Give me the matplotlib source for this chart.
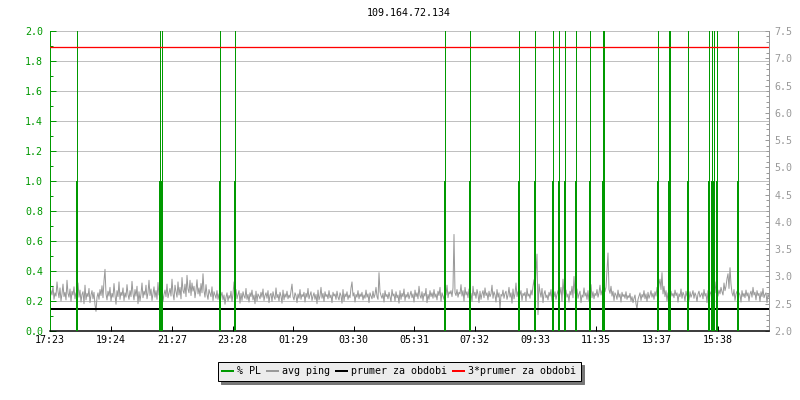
import matplotlib
matplotlib.use("Agg")
import matplotlib.pyplot as plt
from matplotlib.lines import Line2D
from matplotlib.ticker import MultipleLocator, FormatStrFormatter

plt.rcParams['font.family'] = ['DejaVu Sans Mono']

# ---------------- data ----------------
title = "109.164.72.134"
start_time = "17:23"
tick_labels = ["17:23", "19:24", "21:27", "23:28", "01:29", "03:30",
               "05:31", "07:32", "09:33", "11:35", "13:37", "15:38"]

ping_step_min = 2  # minutes between ping samples
ping = [
    2.60, 2.74, 2.66, 2.82, 2.58, 2.70, 2.64, 2.90, 2.72, 2.61, 2.79, 2.55, 2.68, 2.86, 2.63, 2.71, 2.57, 2.93, 2.69, 2.62, 2.77, 2.54, 2.73, 2.66,
    2.81, 2.59, 2.70, 2.64, 2.88, 2.62, 2.75, 2.53, 2.67, 2.72, 2.50, 2.84, 2.57, 2.69, 2.63, 2.78, 2.52, 2.66, 2.74, 2.59, 2.71, 2.48, 2.36, 2.62,
    2.70, 2.58, 2.76, 2.65, 2.83, 2.61, 2.92, 3.13, 2.68, 2.57, 2.73, 2.64, 2.80, 2.55, 2.69, 2.62, 2.87, 2.66, 2.49, 2.74, 2.63, 2.90, 2.58, 2.71,
    2.65, 2.79, 2.56, 2.70, 2.62, 2.85, 2.67, 2.58, 2.74, 2.63, 2.91, 2.69, 2.57, 2.76, 2.64, 2.82, 2.50, 2.72, 2.55, 2.68, 2.88, 2.61, 2.73, 2.66,
    2.84, 2.59, 2.70, 2.93, 2.65, 2.77, 2.56, 2.68, 2.81, 2.62, 2.74, 2.58, 2.89, 2.66, 2.71, 2.60, 2.79, 2.54, 2.67, 2.75, 2.63, 2.86, 2.61, 2.70,
    2.78, 2.64, 2.95, 2.68, 2.57, 2.84, 2.72, 2.62, 2.90, 2.66, 2.80, 2.59, 2.98, 2.74, 2.69, 2.86, 2.63, 3.02, 2.77, 2.70, 2.93, 2.65, 2.88, 2.73,
    2.82, 2.61, 2.75, 2.94, 2.68, 2.79, 2.64, 2.87, 2.70, 3.05, 2.74, 2.62, 2.85, 2.67, 2.58, 2.76, 2.69, 2.63, 2.81, 2.56, 2.72, 2.66, 2.60, 2.74,
    2.58, 2.68, 2.52, 2.64, 2.71, 2.57, 2.66, 2.49, 2.62, 2.70, 2.55, 2.65, 2.60, 2.73, 2.54, 2.68, 2.90, 2.63, 2.76, 2.59, 2.67, 2.74, 2.51, 2.69,
    2.56, 2.72, 2.64, 2.60, 2.78, 2.58, 2.67, 2.53, 2.70, 2.63, 2.75, 2.57, 2.66, 2.50, 2.73, 2.55, 2.68, 2.64, 2.59, 2.71, 2.62, 2.77, 2.56, 2.65,
    2.70, 2.60, 2.74, 2.52, 2.66, 2.69, 2.54, 2.72, 2.63, 2.58, 2.79, 2.61, 2.67, 2.55, 2.71, 2.64, 2.51, 2.75, 2.57, 2.68, 2.62, 2.73, 2.59, 2.66,
    2.61, 2.74, 2.86, 2.63, 2.57, 2.70, 2.65, 2.52, 2.68, 2.60, 2.76, 2.58, 2.67, 2.63, 2.71, 2.53, 2.69, 2.62, 2.78, 2.59, 2.66, 2.72, 2.56, 2.64,
    2.70, 2.58, 2.67, 2.50, 2.75, 2.57, 2.64, 2.80, 2.60, 2.69, 2.54, 2.72, 2.63, 2.67, 2.59, 2.74, 2.61, 2.66, 2.52, 2.71, 2.64, 2.68, 2.58, 2.73,
    2.62, 2.57, 2.70, 2.65, 2.51, 2.76, 2.55, 2.68, 2.63, 2.72, 2.58, 2.66, 2.61, 2.79, 2.90, 2.64, 2.70, 2.53, 2.67, 2.62, 2.74, 2.59, 2.68, 2.63,
    2.71, 2.57, 2.66, 2.60, 2.75, 2.62, 2.68, 2.52, 2.70, 2.64, 2.59, 2.73, 2.61, 2.67, 2.80, 2.63, 2.58, 3.07, 2.72, 2.65, 2.60, 2.69, 2.53, 2.74,
    2.63, 2.67, 2.59, 2.71, 2.62, 2.54, 2.76, 2.64, 2.68, 2.55, 2.72, 2.61, 2.66, 2.51, 2.74, 2.58, 2.69, 2.63, 2.77, 2.56, 2.67, 2.62, 2.71, 2.59,
    2.66, 2.73, 2.61, 2.68, 2.53, 2.75, 2.63, 2.70, 2.59, 2.82, 2.65, 2.60, 2.72, 2.56, 2.69, 2.64, 2.78, 2.52, 2.67, 2.58, 2.74, 2.63, 2.70, 2.60,
    2.76, 2.62, 2.68, 2.57, 2.73, 2.65, 2.80, 2.54, 2.70, 2.64, 2.58, 2.75, 2.66, 2.84, 2.61, 2.72, 2.68, 2.74, 2.63, 2.79, 3.77, 2.70, 2.65, 2.76,
    2.62, 2.71, 2.68, 2.85, 2.64, 2.74, 2.55, 2.80, 2.66, 2.72, 2.61, 2.77, 2.63, 2.69, 2.54, 2.82, 2.65, 2.71, 2.60, 2.76, 2.67, 2.52, 2.73, 2.58,
    2.68, 2.74, 2.61, 2.79, 2.65, 2.70, 2.57, 2.73, 2.63, 2.68, 2.84, 2.60, 2.72, 2.66, 2.53, 2.76, 2.62, 2.70, 2.40, 2.67, 2.64, 2.75, 2.60, 2.69,
    2.73, 2.58, 2.66, 2.80, 2.62, 2.70, 2.51, 2.77, 2.59, 2.68, 2.88, 2.63, 2.72, 2.60, 2.67, 2.74, 2.56, 2.69, 2.65, 2.71, 2.55, 2.78, 2.64, 2.68,
    2.60, 2.75, 2.66, 2.82, 2.94, 2.70, 3.10, 3.41, 2.30, 2.86, 2.72, 2.62, 2.78, 2.52, 2.68, 2.74, 2.61, 2.66, 2.57, 2.71, 2.64, 2.76, 2.55, 2.69,
    2.63, 2.72, 2.58, 2.67, 2.74, 2.61, 2.69, 2.80, 2.54, 2.95, 2.70, 2.59, 2.75, 2.62, 2.68, 2.53, 2.73, 2.66, 2.82, 2.61, 3.00, 2.70, 2.64, 2.77,
    2.60, 2.68, 2.73, 2.52, 2.66, 2.62, 2.79, 2.64, 2.70, 2.58, 2.74, 2.55, 2.67, 2.85, 2.61, 2.72, 2.59, 2.69, 2.65, 2.76, 2.62, 2.70, 2.84, 2.66,
    2.74, 2.68, 2.90, 2.72, 2.80, 3.10, 3.43, 2.76, 2.69, 2.82, 2.64, 2.73, 2.56, 2.70, 2.66, 2.58, 2.75, 2.62, 2.68, 2.53, 2.71, 2.63, 2.67, 2.60,
    2.72, 2.58, 2.65, 2.61, 2.69, 2.55, 2.63, 2.52, 2.60, 2.66, 2.50, 2.40, 2.58, 2.64, 2.70, 2.56, 2.67, 2.62, 2.74, 2.59, 2.68, 2.54, 2.71, 2.60,
    2.66, 2.74, 2.62, 2.69, 2.58, 2.72, 2.64, 2.80, 2.70, 2.86, 2.95, 2.76, 3.07, 2.68, 2.82, 2.63, 2.74, 2.55, 2.70, 2.66, 2.58, 2.73, 2.64, 2.69,
    2.61, 2.75, 2.65, 2.70, 2.53, 2.68, 2.63, 2.77, 2.60, 2.71, 2.66, 2.55, 2.73, 2.64, 2.69, 2.56, 2.72, 2.62, 2.67, 2.74, 2.60, 2.70, 2.65, 2.54,
    2.68, 2.73, 2.62, 2.66, 2.70, 2.59, 2.76, 2.64, 2.69, 2.52, 2.74, 2.57, 2.67, 2.72, 2.63, 2.78, 2.66, 2.90, 2.70, 2.84, 2.64, 2.75, 2.68, 2.80,
    2.72, 2.66, 2.88, 2.74, 2.82, 2.96, 3.05, 2.78, 3.16, 2.86, 2.70, 2.64, 2.76, 2.56, 2.68, 2.73, 2.62, 2.70, 2.66, 2.53, 2.74, 2.63, 2.69, 2.61,
    2.75, 2.64, 2.70, 2.55, 2.68, 2.73, 2.62, 2.80, 2.66, 2.71, 2.57, 2.74, 2.65, 2.69, 2.54, 2.72, 2.63, 2.78, 2.61, 2.67, 2.70, 2.52, 2.68, 2.62,
]

avg_ping = 2.40  # "prumer za obdobi"

# packet-loss events: minutes after start, peak value (off scale) and step value
pl_times = [54, 220, 223, 339, 369, 790, 840, 938, 970, 1006, 1018, 1030, 1052,
            1080, 1106, 1108, 1216, 1237, 1239, 1276, 1318, 1324, 1328, 1334, 1376]
pl_peak = [100, 100, 100, 100, 100, 100, 100, 100, 100, 100, 100, 100, 100,
           100, 100, 100, 100, 100, 100, 100, 100, 100, 100, 100, 100]
pl_step = [1.0, 1.0, 1.0, 1.0, 1.0, 1.0, 1.0, 1.0, 1.0, 1.0, 1.0, 1.0, 1.0,
           1.0, 1.0, 1.0, 1.0, 1.0, 1.0, 1.0, 1.0, 1.0, 1.0, 1.0, 1.0]

legend_labels = ["% PL", "avg ping", "prumer za obdobi", "3*prumer za obdobi"]

# ---------------- styling ----------------
GREEN = "#009900"
GRAY = "#999999"
GRID = "#c0c0c0"
PX = 0.72  # points per pixel at 100 dpi
FS = 7.2

x_span = 1438


def to_min(label):
    h, m = map(int, label.split(":"))
    h0, m0 = map(int, start_time.split(":"))
    return ((h * 60 + m) - (h0 * 60 + m0)) % 1440


tick_pos = [to_min(t) for t in tick_labels]
ping_x = [i * ping_step_min for i in range(len(ping))]

fig = plt.figure(figsize=(8, 4), dpi=100)
ax = fig.add_axes([50 / 800, 69 / 400, 719 / 800, 300 / 400])
ax2 = ax.twinx()
ax3 = ax.twinx()

ax2.set_zorder(1)
ax.set_zorder(2)
ax3.set_zorder(3)
ax.patch.set_visible(False)
ax3.patch.set_visible(False)

# right axis (ping)
ax2.set_ylim(2.0, 7.5)
ax2.set_xlim(0, x_span)
ax2.hlines([k / 10 for k in range(1, 11)], 0, 1, transform=ax2.transAxes,
           color=GRID, lw=1 * PX, zorder=0, antialiased=False)
ax2.plot(ping_x, ping, color=GRAY, lw=1 * PX, zorder=2)
ax2.axhline(avg_ping, color="black", lw=2 * PX, zorder=3, antialiased=False)
ax2.yaxis.set_major_locator(MultipleLocator(0.5))
ax2.yaxis.set_minor_locator(MultipleLocator(0.1))
ax2.yaxis.set_major_formatter(FormatStrFormatter("%.1f"))
ax2.tick_params(axis="y", which="major", direction="in", length=4 * PX, width=1 * PX,
                color=GRAY, labelcolor=GRAY, labelsize=FS, pad=4)
ax2.tick_params(axis="y", which="minor", direction="in", length=3 * PX, width=1 * PX,
                color=GRAY)
for s in ["left", "top", "bottom"]:
    ax2.spines[s].set_visible(False)
ax2.spines["right"].set_color(GRAY)
ax2.spines["right"].set_linewidth(1 * PX)

# left axis (% PL)
ax.set_ylim(0, 2.0)
ax.set_xlim(0, x_span)
ax.vlines(pl_times, pl_step, pl_peak, color=GREEN, lw=1 * PX, zorder=3, antialiased=False)
ax.vlines(pl_times, 0, pl_step, color=GREEN, lw=2 * PX, zorder=3, antialiased=False)
ax.yaxis.set_major_locator(MultipleLocator(0.2))
ax.yaxis.set_minor_locator(MultipleLocator(0.1))
ax.yaxis.set_major_formatter(FormatStrFormatter("%.1f"))
ax.tick_params(axis="y", which="major", direction="in", length=6 * PX, width=1 * PX,
               color=GREEN, labelcolor=GREEN, labelsize=FS, pad=5)
ax.tick_params(axis="y", which="minor", direction="in", length=3 * PX, width=1 * PX,
               color=GREEN)
ax.set_xticks(tick_pos)
ax.set_xticklabels(tick_labels)
ax.tick_params(axis="x", which="major", direction="in", length=5 * PX, width=1 * PX,
               color="black", labelcolor="black", labelsize=FS, pad=3)
ax.spines["top"].set_visible(False)
ax.spines["right"].set_visible(False)
ax.spines["left"].set_color(GREEN)
ax.spines["left"].set_linewidth(1 * PX)
ax.spines["bottom"].set_color("black")
ax.spines["bottom"].set_linewidth(1.5 * PX)

# top overlay (3 * average)
ax3.set_ylim(ax2.get_ylim())
ax3.set_xlim(0, x_span)
ax3.axhline(3 * avg_ping, color="#ff0000", lw=1.3 * PX)
ax3.set_yticks([])
for s in ax3.spines.values():
    s.set_visible(False)

fig.text(409 / 800, 1 - 13 / 400, title, ha="center", va="center", fontsize=FS, color="black")

handles = [Line2D([], [], color=GREEN, lw=2 * PX),
           Line2D([], [], color=GRAY, lw=2 * PX),
           Line2D([], [], color="black", lw=2 * PX),
           Line2D([], [], color="red", lw=2 * PX)]
leg = fig.legend(handles, legend_labels, loc="center", bbox_to_anchor=(399 / 800, 1 - 371 / 400),
                 ncol=4, fontsize=FS, frameon=True, fancybox=False,
                 shadow={"ox": 3 * PX, "oy": -3 * PX, "color": "#777777", "alpha": 1.0},
                 handlelength=1.1, handletextpad=0.4, columnspacing=0.6,
                 borderpad=0.45, framealpha=1.0)
leg.get_frame().set_facecolor("#ececec")
leg.get_frame().set_edgecolor("black")
leg.get_frame().set_linewidth(1 * PX)

fig.savefig("out.png", dpi=100)
